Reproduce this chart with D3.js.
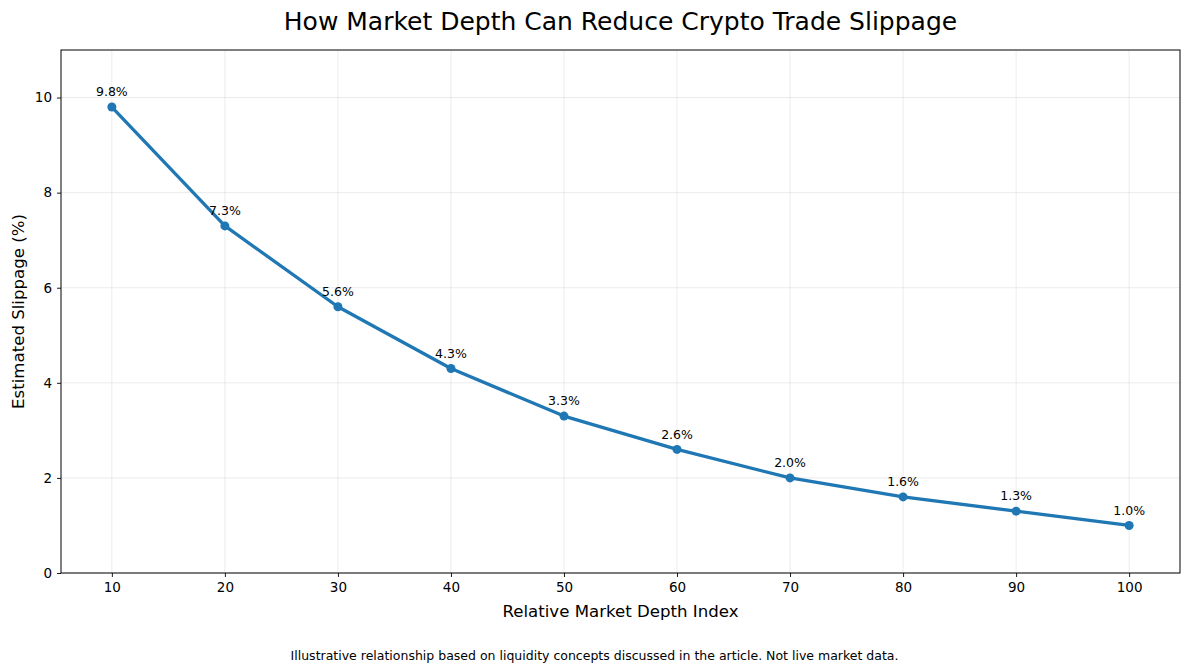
<!DOCTYPE html>
<html><head><meta charset="utf-8">
<script src="https://cdn.jsdelivr.net/npm/d3@7"></script>
<style>body{margin:0;background:#fff;font-family:"DejaVu Sans",sans-serif;}</style>
</head><body><svg id="c" width="1189" height="672"></svg>
<script>
const depth = [10,20,30,40,50,60,70,80,90,100];
const slippage = [9.8,7.3,5.6,4.3,3.3,2.6,2.0,1.6,1.3,1.0];
const xTicks = [10,20,30,40,50,60,70,80,90,100];
const yTicks = [0,2,4,6,8,10];
const title = "How Market Depth Can Reduce Crypto Trade Slippage";
const xLabel = "Relative Market Depth Index";
const yLabel = "Estimated Slippage (%)";
const note = "Illustrative relationship based on liquidity concepts discussed in the article. Not live market data.";

const svg = d3.select("#c");
const m = {l:61, t:50, r:1180, b:573};
const x = d3.scaleLinear().domain([5.5,104.5]).range([m.l,m.r]);
const y = d3.scaleLinear().domain([0,11]).range([m.b,m.t]);
const color = "#1f77b4";

// grid
svg.append("g").selectAll("line").data(xTicks).join("line")
  .attr("x1",d=>x(d)).attr("x2",d=>x(d)).attr("y1",m.t).attr("y2",m.b)
  .attr("stroke","#b0b0b0").attr("stroke-opacity",0.3).attr("stroke-width",0.8);
svg.append("g").selectAll("line").data(yTicks).join("line")
  .attr("y1",d=>y(d)).attr("y2",d=>y(d)).attr("x1",m.l).attr("x2",m.r)
  .attr("stroke","#b0b0b0").attr("stroke-opacity",0.3).attr("stroke-width",0.8);

// axes
const xa = svg.append("g").attr("transform",`translate(0,${m.b})`)
  .call(d3.axisBottom(x).tickValues(xTicks).tickSize(4).tickPadding(5).tickSizeOuter(0));
const ya = svg.append("g").attr("transform",`translate(${m.l},0)`)
  .call(d3.axisLeft(y).tickValues(yTicks).tickSize(4).tickPadding(5).tickSizeOuter(0));
[xa,ya].forEach(a=>{
  a.selectAll("text").attr("font-family","DejaVu Sans").attr("font-size",13.5).attr("fill","#000");
  a.select(".domain").remove();
  a.selectAll(".tick line").attr("stroke","#000").attr("stroke-width",0.9);
});
svg.append("rect").attr("x",m.l).attr("y",m.t).attr("width",m.r-m.l).attr("height",m.b-m.t)
  .attr("fill","none").attr("stroke","#000").attr("stroke-width",1);

// line
const pts = depth.map((d,i)=>({x:d,y:slippage[i]}));
svg.append("path").datum(pts)
  .attr("d",d3.line().x(d=>x(d.x)).y(d=>y(d.y)))
  .attr("fill","none").attr("stroke",color).attr("stroke-width",3.3).attr("stroke-linejoin","round");
svg.append("g").selectAll("circle").data(pts).join("circle")
  .attr("cx",d=>x(d.x)).attr("cy",d=>y(d.y)).attr("r",4.5).attr("fill",color);
svg.append("g").selectAll("text").data(pts).join("text")
  .attr("x",d=>x(d.x)).attr("y",d=>y(d.y)-10.7)
  .attr("text-anchor","middle").attr("font-size",12.5).attr("fill","#000")
  .text(d=>d.y.toFixed(1)+"%");

// labels
svg.append("text").attr("x",(m.l+m.r)/2).attr("y",30).attr("text-anchor","middle")
  .attr("font-size",25).attr("fill","#000").text(title);
svg.append("text").attr("x",(m.l+m.r)/2).attr("y",617).attr("text-anchor","middle")
  .attr("font-size",16.6).attr("fill","#000").text(xLabel);
svg.append("text").attr("transform",`translate(24,${(m.t+m.b)/2}) rotate(-90)`).attr("text-anchor","middle")
  .attr("font-size",16.6).attr("fill","#000").text(yLabel);
svg.append("text").attr("x",594.5).attr("y",660).attr("text-anchor","middle")
  .attr("font-size",12.5).attr("fill","#000").text(note);
</script></body></html>
